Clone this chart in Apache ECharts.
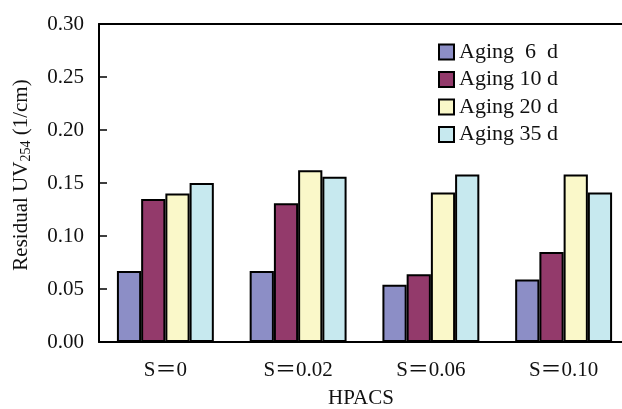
<!DOCTYPE html>
<html>
<head>
<meta charset="utf-8">
<script src="https://cdn.jsdelivr.net/npm/echarts@6/dist/echarts.min.js"></script>
<style>html,body{margin:0;padding:0;background:#fff;}#c{width:622px;height:409px;}</style>
</head>
<body>
<div id="c"></div>
<script>
var categories = ['S\uFF1D0', 'S\uFF1D0.02', 'S\uFF1D0.06', 'S\uFF1D0.10'];
var seriesNames = ['Aging  6  d', 'Aging 10 d', 'Aging 20 d', 'Aging 35 d'];
var aging6 = [0.067, 0.067, 0.054, 0.059];
var aging10 = [0.135, 0.131, 0.064, 0.085];
var aging20 = [0.140, 0.162, 0.141, 0.158];
var aging35 = [0.150, 0.156, 0.158, 0.141];
var colors = ['#8C8EC6', '#933A6B', '#FAF8C9', '#C7E9EF'];

var FONT = '"Liberation Serif", "Times New Roman", "Noto Sans CJK SC", serif';
var allData = [aging6, aging10, aging20, aging35];
var chart = echarts.init(document.getElementById('c'), null, {renderer: 'canvas'});
chart.setOption({
  animation: false,
  backgroundColor: '#fff',
  grid: {left: 99, top: 24, width: 531, height: 318, outerBoundsMode: 'none', containLabel: false},
  legend: {
    orient: 'vertical', left: 438, top: 41, padding: 0,
    itemWidth: 15, itemHeight: 15, itemGap: 5.5,
    icon: 'rect',
    textStyle: {fontFamily: FONT, fontSize: 22, color: '#111'},
    itemStyle: {borderColor: '#000', borderWidth: 2},
    data: seriesNames
  },
  xAxis: [{
    type: 'category', data: categories, position: 'bottom',
    axisLine: {lineStyle: {color: '#000', width: 2}},
    axisTick: {show: false},
    axisLabel: {fontFamily: FONT, fontSize: 21, color: '#111', margin: 18},
    name: 'HPACS', nameLocation: 'middle', nameGap: 46,
    nameTextStyle: {fontFamily: FONT, fontSize: 21, color: '#111', padding: [0, 7, 0, 0]}
  }, {
    type: 'category', data: categories, position: 'top',
    axisLine: {show: true, lineStyle: {color: '#000', width: 2}},
    axisTick: {show: false}, axisLabel: {show: false}
  }],
  yAxis: {
    type: 'value', min: 0, max: 0.30, interval: 0.05,
    axisLine: {show: true, lineStyle: {color: '#000', width: 2}},
    axisTick: {show: true, inside: true, length: 8, lineStyle: {color: '#000', width: 1.5}},
    splitLine: {show: false},
    axisLabel: {fontFamily: FONT, fontSize: 21, color: '#111', margin: 15,
      formatter: function (v) { return v.toFixed(2); }},
    name: '{a|Residual UV}{s|254}{a| (1/cm)}',
    nameLocation: 'middle', nameGap: 66,
    nameTextStyle: {
      fontFamily: FONT, fontSize: 21, color: '#111', padding: [0, 0, 0, 16],
      rich: {
        a: {fontFamily: FONT, fontSize: 21, color: '#111'},
        s: {fontFamily: FONT, fontSize: 14, color: '#111', verticalAlign: 'bottom', padding: [10, 0, 0, 0]}
      }
    }
  },
  series: seriesNames.map(function (n, i) {
    return {
      name: n, type: 'bar', data: allData[i],
      barGap: '0%', barCategoryGap: '27%',
      itemStyle: {color: colors[i], borderColor: '#000', borderWidth: 2}
    };
  })
});
</script>
</body>
</html>
